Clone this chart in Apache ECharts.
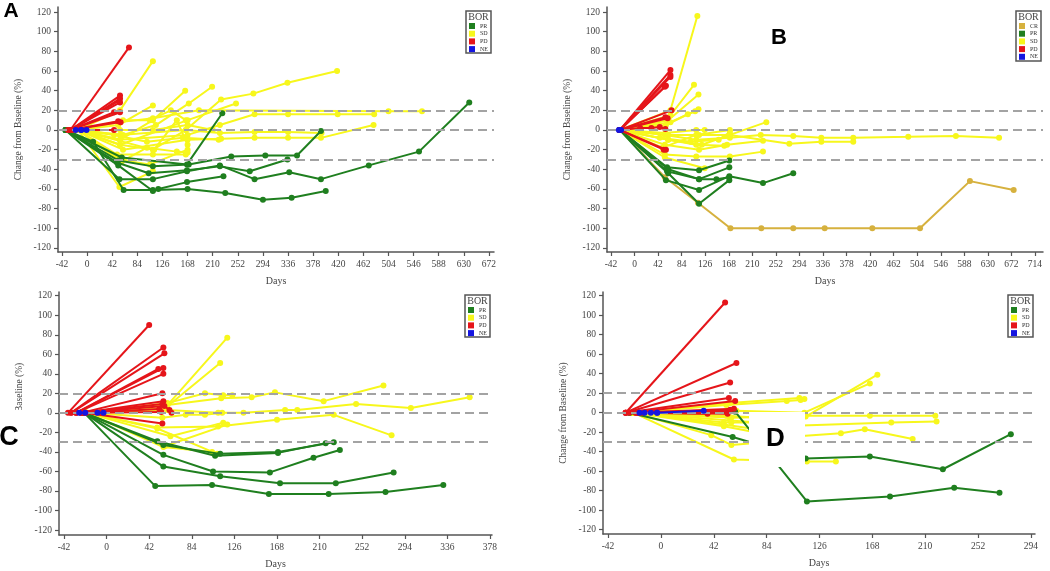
<!DOCTYPE html>
<html><head><meta charset="utf-8">
<script src="https://cdn.jsdelivr.net/npm/echarts@6/dist/echarts.min.js"></script>
<style>html,body{margin:0;padding:0;background:#fff}#c{width:1050px;height:571px}</style>
</head><body><div id="c"></div>
<script>
// ---------- tick labels ----------
const yTicks = [-120,-100,-80,-60,-40,-20,0,20,40,60,80,100,120];
const A_xTicks = [-42,0,42,84,126,168,210,252,294,336,378,420,462,504,546,588,630,672];
const B_xTicks = [-42,0,42,84,126,168,210,252,294,336,378,420,462,504,546,588,630,672,714];
const C_xTicks = [-42,0,42,84,126,168,210,252,294,336,378];
const D_xTicks = [-42,0,42,84,126,168,210,252,294];
const refLines = [20, 0, -30];

// ---------- categories ----------
const catsA = ['PR','SD','PD','NE'];
const catsB = ['CR','PR','SD','PD','NE'];
const catsC = ['PR','SD','PD','NE'];
const catsD = ['PR','SD','PD','NE'];

// ---------- Panel A (day, % change) ----------
const A_PR = [
 [[-36,0],[10,-12],[61,-61],[110,-61],[168,-60],[231,-64],[294,-71],[342,-69],[399,-62]],
 [[-36,0],[52,-36],[110,-62],[119,-60],[167,-53],[228,-47]],
 [[-36,0],[54,-50],[110,-50],[167,-42],[222,-36],[280,-50],[338,-43],[391,-50],[471,-36],[555,-22],[639,28]],
 [[-36,0],[50,-33],[103,-44],[167,-41],[222,-37],[272,-42],[335,-30]],
 [[-36,0],[52,-31],[110,-37],[170,-35],[241,-27],[298,-26],[351,-26],[391,-1]],
 [[-36,0],[58,-28],[167,-35],[226,17]]
];
const A_SD = [
 [[-15,0],[55,20],[110,70]],
 [[-15,0],[52,5],[110,25]],
 [[-15,0],[55,-10],[110,10],[164,40]],
 [[-15,0],[60,-5],[115,5],[170,27],[209,44]],
 [[-15,0],[55,-5],[165,0],[224,31],[278,37],[335,48],[418,60]],
 [[-15,0],[55,-15],[168,10],[249,27]],
 [[-15,0],[55,-10],[168,-5],[222,5],[280,16],[336,16],[419,16],[480,16]],
 [[-15,0],[55,8],[110,12],[187,20],[504,19],[560,19]],
 [[-15,0],[60,-20],[168,-10],[224,-9],[280,-8],[336,-8],[391,-8],[479,5]],
 [[-15,0],[110,-20],[165,0],[222,-3],[280,-2],[336,-2],[392,-3]],
 [[-15,0],[54,-58],[110,-42]],
 [[-15,0],[50,-30],[105,-35],[168,-20]],
 [[-15,0],[60,10],[105,10],[140,20],[165,10]],
 [[-15,0],[55,0],[110,0],[168,5],[210,0]],
 [[-15,0],[50,-25],[110,-25],[165,-25]],
 [[-15,0],[55,-15],[112,-20],[150,10],[168,-15]],
 [[-15,0],[45,-5],[100,-12],[160,-8],[220,-10]],
 [[-15,0],[58,-32],[100,-18],[150,-22],[168,-23]]
];
const A_PD = [
 [[-28,0],[70,84]],
 [[-28,0],[55,35]],
 [[-28,0],[55,32]],
 [[-28,0],[54,30]],
 [[-28,0],[55,28]],
 [[-28,0],[45,18]],
 [[-28,0],[55,18]],
 [[-28,0],[52,9]],
 [[-28,0],[56,8]],
 [[-28,0],[45,0]],
 [[-32,0],[-24,0]]
];
const A_NE = [
 [[-19,0],[-10,0]],
 [[-10,0],[-1,0]]
];

// ---------- Panel B ----------
const B_CR = [
 [[-26,0],[54,-48],[113,-74],[171,-100],[226,-100],[283,-100],[339,-100],[424,-100],[509,-100],[598,-52],[676,-61]]
];
const B_PR = [
 [[-26,0],[58,-38],[115,-41],[169,-31]],
 [[-26,0],[58,-42],[115,-50],[169,-38]],
 [[-26,0],[56,-51],[115,-61],[169,-47],[229,-54],[283,-44]],
 [[-26,0],[60,-44],[115,-75],[169,-51]],
 [[-26,0],[60,-40],[115,-50],[146,-50],[169,-48]]
];
const B_SD = [
 [[-26,0],[64,20],[112,116]],
 [[-26,0],[64,15],[106,46]],
 [[-26,0],[60,10],[114,36]],
 [[-26,0],[64,8],[114,21]],
 [[-26,0],[56,5],[95,16],[108,19]],
 [[-26,0],[60,-5],[115,-5],[170,-5],[235,8]],
 [[-26,0],[54,-5],[110,-10],[170,-8],[225,-5],[283,-6],[333,-8],[390,-8],[488,-7],[573,-6],[650,-8]],
 [[-26,0],[60,-10],[120,-15],[170,-5],[276,-14],[333,-12],[390,-12]],
 [[-26,0],[54,-15],[115,-20],[165,-15],[229,-11]],
 [[-26,0],[54,-25],[110,-27],[170,-27],[229,-22]],
 [[-26,0],[54,-28],[125,-39]],
 [[-26,0],[60,-10],[110,-15],[160,-16]],
 [[-26,0],[50,-18],[110,-5],[170,0]],
 [[-26,0],[55,-3],[110,0],[125,0]],
 [[-26,0],[45,-8],[100,-12],[150,-10],[170,-2]]
];
const B_PD = [
 [[-26,0],[64,61]],
 [[-26,0],[64,56]],
 [[-26,0],[64,54]],
 [[-26,0],[56,45]],
 [[-26,0],[54,44]],
 [[-26,0],[66,20]],
 [[-26,0],[55,13]],
 [[-26,0],[59,12]],
 [[-26,0],[10,2],[30,2],[45,3],[55,1]],
 [[-26,0],[52,-20]],
 [[-26,0],[56,-20]]
];
const B_NE = [
 [[-28,0],[-24,0]]
];

// ---------- Panel C ----------
const C_PR = [
 [[-22,0],[50,-29],[107,-44],[169,-41],[216,-31]],
 [[-22,0],[56,-33],[112,-42],[169,-40],[224,-30]],
 [[-22,0],[56,-43],[105,-60],[161,-61],[204,-46],[230,-38]],
 [[-22,0],[56,-55],[112,-65],[171,-72],[226,-72],[283,-61]],
 [[-22,0],[48,-75],[104,-74],[160,-83],[219,-83],[275,-81],[332,-74]]
];
const C_SD = [
 [[-20,0],[60,8],[119,77]],
 [[-20,0],[58,5],[112,51]],
 [[-20,0],[60,10],[97,20],[115,18],[124,18]],
 [[-20,0],[60,8],[113,15],[143,16],[166,21],[214,12],[273,28]],
 [[-20,0],[60,3],[110,0],[135,0],[176,3],[188,3],[246,9],[300,5],[358,16]],
 [[-20,0],[55,-5],[78,-2],[97,-2],[114,0]],
 [[-20,0],[50,-15],[110,-14],[168,-7],[224,-2],[281,-23]],
 [[-20,0],[58,-34],[119,-12]],
 [[-20,0],[63,-24],[115,-10]],
 [[-20,0],[50,-16],[109,-42]],
 [[-20,0],[56,-35],[104,-40]]
];
const C_PD = [
 [[-38,0],[42,90]],
 [[-35,0],[56,67]],
 [[-35,0],[57,61]],
 [[-30,0],[51,45]],
 [[-30,0],[56,46]],
 [[-30,0],[56,40]],
 [[-25,0],[55,20]],
 [[-25,0],[56,12]],
 [[-25,0],[55,9]],
 [[-25,0],[57,7],[62,3],[64,0]],
 [[-22,0],[54,1]],
 [[-22,0],[55,-11]],
 [[-20,0],[52,4]]
];
const C_NE = [
 [[-27,0],[-21,0]],
 [[-9,0],[-3,0]]
];

// ---------- Panel D ----------
const D_PR = [
 [[-25,0],[57,-25],[115,-47],[166,-45],[224,-58],[278,-22]],
 [[-25,0],[59,1],[116,-91],[182,-86],[233,-77],[269,-82]]
];
const D_SD = [
 [[-22,0],[55,10],[110,15],[114,14]],
 [[-22,0],[52,8],[100,12],[111,13]],
 [[-22,0],[60,2],[114,0],[166,30]],
 [[-22,0],[56,-5],[115,-4],[172,39]],
 [[-22,0],[55,-5],[112,-3],[166,-3],[218,-3]],
 [[-22,0],[55,-8],[112,-13],[183,-10],[219,-9]],
 [[-22,0],[50,-12],[112,-24],[143,-21],[162,-17],[200,-27]],
 [[-22,0],[58,-48],[116,-50],[139,-50]],
 [[-22,0],[40,-23],[56,-33],[75,-31]],
 [[-22,0],[50,-10],[56,-10],[75,-10]],
 [[-22,0],[50,-14],[75,-20]],
 [[-22,0],[52,-3],[75,-5]]
];
const D_PD = [
 [[-28,0],[51,113]],
 [[-28,0],[60,51]],
 [[-28,0],[55,31]],
 [[-28,0],[54,15]],
 [[-25,0],[59,12]],
 [[-20,0],[58,4]],
 [[-20,0],[55,3]],
 [[-18,0],[53,1]],
 [[-18,0],[53,-1]],
 [[-15,0],[37,-1]]
];
const D_NE = [
 [[-17,0],[-13,0]],
 [[-8,0],[-3,0]],
 [[-3,0],[34,2]]
];

// ---------- styling ----------
const COLORS = {CR:'#d6b13e', PR:'#1f7f1f', SD:'#f7f71c', PD:'#e5151a', NE:'#1515e0'};
const ZORD = {CR:2, SD:2, PR:3, PD:4, NE:5};
const SERIF = '"Liberation Serif", "DejaVu Serif", serif';
const AX = '#555';

const grids = [
 {left:58, top:7, width:436, height:245},
 {left:607, top:7, width:436, height:245},
 {left:59, top:292, width:433, height:243},
 {left:603, top:292, width:432, height:242}
];
const xRanges = [[-48.7,680.4],[-49.1,728.3],[-46.9,380],[-46,297.2]];
const yRanges = [[-124.1,125.1],[-124.1,125.1],[-125.1,123.8],[-124.4,123.8]];
const xTickSets = [A_xTicks, B_xTicks, C_xTicks, D_xTicks];

function xAx(i){
  return {type:'value', gridIndex:i, min:xRanges[i][0], max:xRanges[i][1],
    name:'Days', nameLocation:'middle', nameGap:24,
    nameTextStyle:{fontFamily:SERIF, fontSize:10, color:'#444'},
    axisLine:{onZero:false, lineStyle:{color:AX, width:1.5}},
    axisTick:{show:true, length:4, customValues:xTickSets[i], lineStyle:{color:AX, width:1.2}},
    axisLabel:{customValues:xTickSets[i], fontFamily:SERIF, fontSize:9.5, color:'#444', margin:7},
    splitLine:{show:false}};
}
function yAx(i){
  return {type:'value', gridIndex:i, min:yRanges[i][0], max:yRanges[i][1],
    name:'Change from Baseline (%)', nameLocation:'middle', nameGap:35,
    nameTextStyle:{fontFamily:SERIF, fontSize:9.5, color:'#444'},
    axisLine:{onZero:false, lineStyle:{color:AX, width:1.5}},
    axisTick:{show:true, length:4, customValues:yTicks, lineStyle:{color:AX, width:1.2}},
    axisLabel:{customValues:yTicks, fontFamily:SERIF, fontSize:9.5, color:'#444', margin:7},
    splitLine:{show:false}};
}
function traj(list, cat, gi){
  return list.map(pts => ({
    type:'line', name:cat, xAxisIndex:gi, yAxisIndex:gi, data:pts,
    symbol:'circle', symbolSize:6, showSymbol:true,
    lineStyle:{color:COLORS[cat], width:2},
    itemStyle:{color:COLORS[cat]},
    emphasis:{disabled:true}, silent:true, animation:false, z:ZORD[cat]
  }));
}
function refSeries(gi){
  return {type:'line', name:'ref'+gi, xAxisIndex:gi, yAxisIndex:gi, data:[[0,0]],
    showSymbol:false, lineStyle:{opacity:0}, silent:true, animation:false, z:1,
    markLine:{silent:true, symbol:'none', label:{show:false}, animation:false,
      lineStyle:{type:[9,5], color:'#a3a3a3', width:2},
      data: refLines.map(v => ({yAxis:v}))}};
}

const series = [
  refSeries(0), refSeries(1), refSeries(2), refSeries(3),
  ...traj(A_SD,'SD',0), ...traj(A_PR,'PR',0), ...traj(A_PD,'PD',0), ...traj(A_NE,'NE',0),
  ...traj(B_SD,'SD',1), ...traj(B_CR,'CR',1), ...traj(B_PR,'PR',1), ...traj(B_PD,'PD',1), ...traj(B_NE,'NE',1),
  ...traj(C_SD,'SD',2), ...traj(C_PR,'PR',2), ...traj(C_PD,'PD',2), ...traj(C_NE,'NE',2),
  ...traj(D_SD,'SD',3), ...traj(D_PR,'PR',3), ...traj(D_PD,'PD',3), ...traj(D_NE,'NE',3)
];

function legend(cats, left, top){
  return {data:cats, orient:'vertical', left, top, padding:0, itemWidth:6, itemHeight:6,
    itemGap:1.7, itemTextGap:5, icon:'rect', selectedMode:false, z:10,
    textStyle:{fontFamily:SERIF, fontSize:6, lineHeight:6, color:'#333'}};
}
function legBox(x, y, w, h){
  return [
    {type:'rect', z:8, shape:{x, y, width:w, height:h}, style:{fill:'#fff', stroke:'#555', lineWidth:1.5}},
    {type:'text', z:12, style:{text:'BOR', x:x+w/2, y:y+6, align:'center', verticalAlign:'middle',
      font:'10px ' + SERIF, fill:'#444'}}
  ];
}
function letter(t, x, y, size){
  return {type:'text', z:200, style:{text:t, x, y, align:'center', verticalAlign:'middle',
    font:'bold ' + size + 'px "Liberation Sans", Arial, sans-serif', fill:'#000'}};
}

const option = {
  backgroundColor:'#fff',
  animation:false,
  grid: grids,
  xAxis: [0,1,2,3].map(xAx),
  yAxis: [0,1,2,3].map(yAx),
  legend: [
    legend(catsA, 469, 23),
    legend(catsB, 1019, 23),
    legend(catsC, 468, 307),
    legend(catsD, 1011, 307)
  ],
  series,
  graphic: [
    ...legBox(466, 11, 25, 42),
    ...legBox(1016, 11, 25, 50),
    ...legBox(465, 295, 25, 42),
    ...legBox(1008, 295, 25, 42),
    {type:'rect', z:150, shape:{x:749, y:412, width:56, height:55}, style:{fill:'#fff'}},
    {type:'rect', z:150, shape:{x:6, y:410, width:26, height:70}, style:{fill:'#fff'}},
    letter('A', 11, 11, 21),
    letter('B', 779, 38, 22),
    letter('C', 9, 438, 27),
    letter('D', 775.5, 439, 26)
  ]
};
const chart = echarts.init(document.getElementById('c'), null, {renderer:'canvas'});
chart.setOption(option);
</script></body></html>
